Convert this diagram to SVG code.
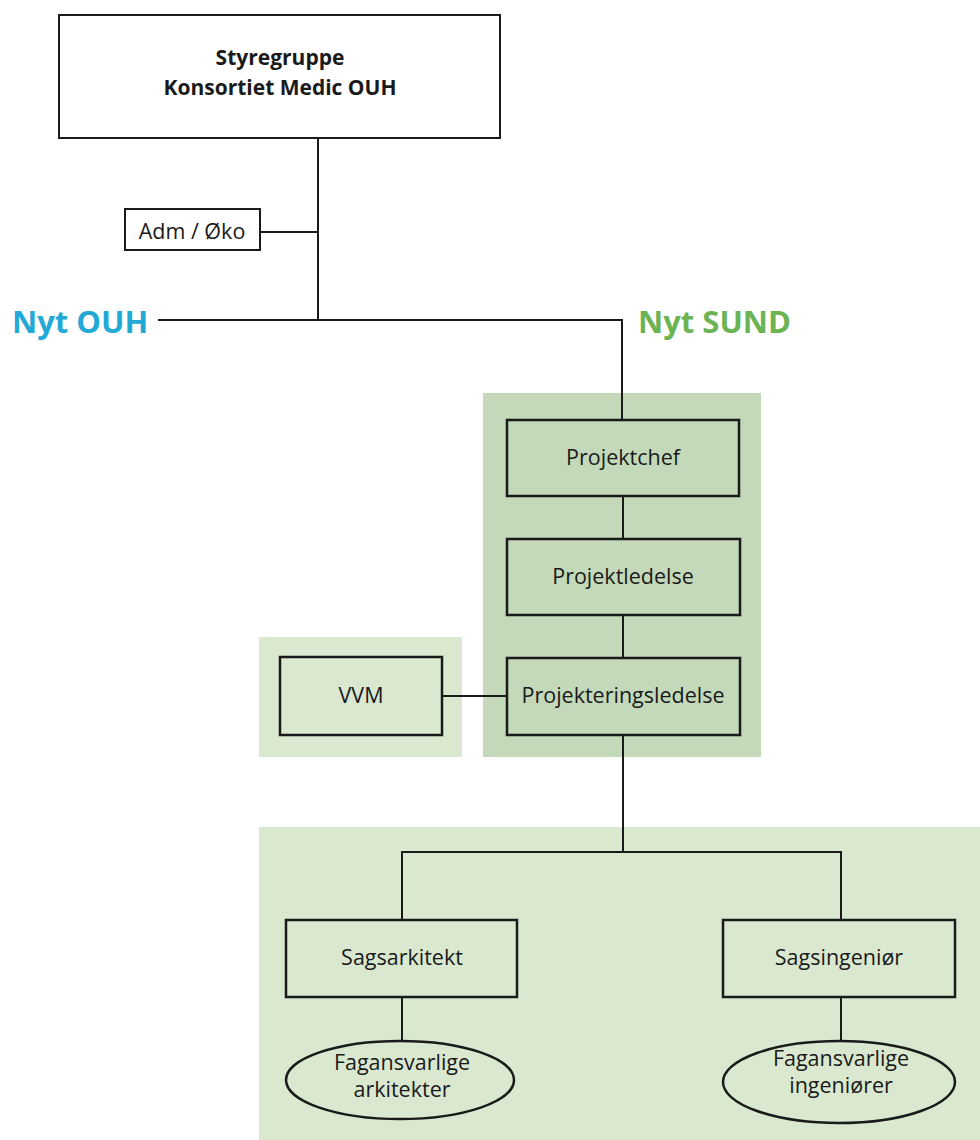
<svg xmlns="http://www.w3.org/2000/svg" width="980" height="1140" viewBox="0 0 980 1140">
<style>
.box{fill:none;stroke:#1a1a1a;stroke-width:2}
.boxd{fill:#c3d9b9;stroke:#1a1a1a;stroke-width:2.5}
.boxl{fill:#d9e8cf;stroke:#1a1a1a;stroke-width:2.5}
.t{font-family:"Open Sans","Noto Sans",sans-serif;font-size:21.5px;fill:#1a1a1a;text-anchor:middle}
.tb{font-family:"Open Sans","Noto Sans",sans-serif;font-size:21px;font-weight:bold;fill:#1a1a1a;text-anchor:middle}
.big{font-family:"Open Sans","Noto Sans",sans-serif;font-size:31px;font-weight:bold}
.c{stroke:#1a1a1a;stroke-width:2;fill:none}
</style>
<rect width="980" height="1140" fill="#ffffff"/>
<g id="panels">
<rect x="483" y="393" width="278" height="364" fill="#c3d9b9"/>
<rect x="259" y="637" width="203" height="120" fill="#d9e8cf"/>
<rect x="259" y="827" width="721" height="313" fill="#d9e8cf"/>
</g>
<g id="connectors">
<line class="c" x1="318" y1="138" x2="318" y2="320"/>
<line class="c" x1="260" y1="232" x2="318" y2="232"/>
<polyline class="c" points="158,320 622,320 622,420"/>
<line class="c" x1="623" y1="496" x2="623" y2="539"/>
<line class="c" x1="623" y1="615" x2="623" y2="658"/>
<line class="c" x1="442" y1="696" x2="507" y2="696"/>
<line class="c" x1="623" y1="735" x2="623" y2="852"/>
<polyline class="c" points="402,920 402,852 841,852 841,920"/>
<line class="c" x1="402" y1="997" x2="402" y2="1040"/>
<line class="c" x1="841" y1="997" x2="841" y2="1041"/>
</g>
<g id="styregruppe">
<rect class="box" x="59" y="15" width="441" height="123"/>
<text class="tb" x="280" y="65">Styregruppe</text>
<text class="tb" x="280" y="95">Konsortiet Medic OUH</text>
</g>
<g id="admoko">
<rect class="box" x="125" y="209" width="135" height="41"/>
<text class="t" x="192" y="239">Adm / Øko</text>
</g>
<g id="nytouh">
<text class="big" x="12" y="333" fill="#22a9d6">Nyt OUH</text>
</g>
<g id="nytsund">
<text class="big" x="638" y="333" fill="#6cb354">Nyt SUND</text>
</g>
<g id="projektchef">
<rect class="boxd" x="507" y="420" width="232" height="76"/>
<text class="t" x="623" y="465">Projektchef</text>
</g>
<g id="projektledelse">
<rect class="boxd" x="507" y="539" width="233" height="76"/>
<text class="t" x="623" y="584">Projektledelse</text>
</g>
<g id="projekteringsledelse">
<rect class="boxd" x="507" y="658" width="233" height="77"/>
<text class="t" x="623" y="703">Projekteringsledelse</text>
</g>
<g id="vvm">
<rect class="boxl" x="280" y="657" width="162" height="78"/>
<text class="t" x="361" y="703">VVM</text>
</g>
<g id="sagsarkitekt">
<rect class="boxl" x="286" y="920" width="231" height="77"/>
<text class="t" x="402" y="965">Sagsarkitekt</text>
</g>
<g id="sagsingenior">
<rect class="boxl" x="723" y="920" width="232" height="77"/>
<text class="t" x="839" y="965">Sagsingeniør</text>
</g>
<g id="fag-ark">
<ellipse class="boxl" cx="400" cy="1080" rx="114" ry="39"/>
<text class="t" x="402" y="1070">Fagansvarlige</text>
<text class="t" x="402" y="1097">arkitekter</text>
</g>
<g id="fag-ing">
<ellipse class="boxl" cx="839" cy="1082" rx="116" ry="41"/>
<text class="t" x="841" y="1066">Fagansvarlige</text>
<text class="t" x="841" y="1093">ingeniører</text>
</g>
</svg>
